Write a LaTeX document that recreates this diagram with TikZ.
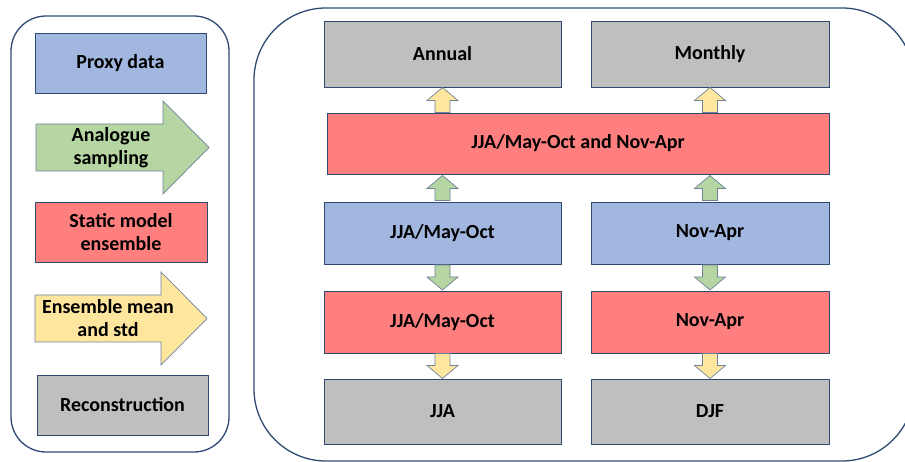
\documentclass[tikz,border=0pt]{standalone}
\usepackage{fontspec}
\setmainfont{Carlito}
\usetikzlibrary{calc}
\definecolor{pblue}{HTML}{A1B7DF}
\definecolor{pgreen}{HTML}{B5D5A2}
\definecolor{pred}{HTML}{FF7F7F}
\definecolor{pyel}{HTML}{FFE69F}
\definecolor{pgrey}{HTML}{BFBFBF}
\definecolor{pedge}{HTML}{2F4A72}
\definecolor{aedge}{HTML}{6F8299}
\tikzset{
  box/.style={draw=pedge, line width=0.8pt, inner sep=0pt, font=\bfseries\fontsize{20}{23}\selectfont, align=center},
  panel/.style={draw=pedge, line width=1.3pt},
  bigarr/.style={draw=aedge, line width=0.7pt},
  lbl/.style={font=\bfseries\fontsize{20}{23}\selectfont, align=center, inner sep=0pt},
  uparr/.pic={\path[pic actions] (-7.5,12.5) -- (-7.5,0.5) -- (-15.5,0.5) -- (0,-12.5) -- (15.5,0.5) -- (7.5,0.5) -- (7.5,12.5) -- cycle;},
  sarr/.style={draw=aedge, line width=0.7pt}
}
\newcommand{\bx}[7]{\node[box, fill=#2, minimum width=#5-#3, minimum height=#6-#4] (#1) at ({(#3+#5)/2},{(#4+#6)/2}) {#7};}
\begin{document}
\begin{tikzpicture}[x=1pt,y=-1pt]
\useasboundingbox (0,0) rectangle (905,462);
\fill[white] (0,0) rectangle (905,462);
% panels
\draw[panel, rounded corners=35] (11,16) rectangle (229,452);
\draw[panel, rounded corners=72] (254,8) rectangle (914,461);
% legend
\bx{leg1}{pblue}{35}{33}{206}{93}{Proxy data}
\draw[bigarr, fill=pgreen] (36,124) -- (163,124) -- (163,101) -- (209,147.5) -- (163,194) -- (163,171) -- (36,171) -- cycle;
\node[lbl] (leg2) at (111,147.5) {Analogue\\sampling};
\bx{leg3}{pred}{35}{202}{207}{262}{Static model\\ensemble}
\draw[bigarr, fill=pyel] (35,295) -- (161,295) -- (161,272) -- (207,318.5) -- (161,365) -- (161,342) -- (35,342) -- cycle;
\node[lbl] (leg4) at (108,318.5) {Ensemble mean\\and std};
\bx{leg5}{pgrey}{37}{375}{208}{435}{Reconstruction}
% main
\bx{ann}{pgrey}{324}{21}{561}{87}{Annual}
\bx{mon}{pgrey}{591}{21}{829}{87}{Monthly}
\bx{wide}{pred}{327}{113}{829}{174}{JJA/May-Oct and Nov-Apr}
\bx{bl}{pblue}{324}{202}{561}{264}{JJA/May-Oct}
\bx{br}{pblue}{591}{202}{829}{264}{Nov-Apr}
\bx{rl}{pred}{324}{291}{561}{353}{JJA/May-Oct}
\bx{rr}{pred}{591}{291}{829}{353}{Nov-Apr}
\bx{gl}{pgrey}{324}{379}{561}{444}{JJA}
\bx{gr}{pgrey}{591}{379}{829}{444}{DJF}
% small arrows
\coordinate (aL) at ($(ann.south)!0.5!(ann.south|-wide.north)$);
\coordinate (aR) at ($(mon.south)!0.5!(mon.south|-wide.north)$);
\coordinate (bL) at ($(bl.north)!0.5!(bl.north|-wide.south)$);
\coordinate (bR) at ($(br.north)!0.5!(br.north|-wide.south)$);
\coordinate (cL) at ($(bl.south)!0.5!(rl.north)$);
\coordinate (cR) at ($(br.south)!0.5!(rr.north)$);
\coordinate (dL) at ($(rl.south)!0.5!(gl.north)$);
\coordinate (dR) at ($(rr.south)!0.5!(gr.north)$);
\pic[sarr, fill=pyel] at (aL) {uparr};
\pic[sarr, fill=pyel] at (aR) {uparr};
\pic[sarr, fill=pgreen] at (bL) {uparr};
\pic[sarr, fill=pgreen] at (bR) {uparr};
\pic[sarr, fill=pgreen, rotate=180] at (cL) {uparr};
\pic[sarr, fill=pgreen, rotate=180] at (cR) {uparr};
\pic[sarr, fill=pyel, rotate=180] at (dL) {uparr};
\pic[sarr, fill=pyel, rotate=180] at (dR) {uparr};
\end{tikzpicture}
\end{document}
